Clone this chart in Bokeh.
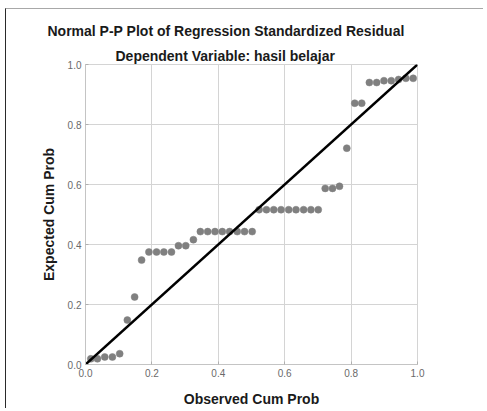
from bokeh.plotting import figure
from bokeh.models import (Range1d, FixedTicker, NumeralTickFormatter, Title,
                          ColumnDataSource)
from bokeh.embed import file_html
from bokeh.resources import INLINE

# ---- data ----
observed_cum_prob = [0.016, 0.036, 0.058, 0.081, 0.103, 0.126, 0.148, 0.169,
                     0.191, 0.214, 0.236, 0.259, 0.280, 0.302, 0.325,
                     0.346, 0.368, 0.390, 0.412, 0.434, 0.457, 0.479, 0.502,
                     0.523, 0.545, 0.567, 0.589, 0.612, 0.634, 0.657, 0.679, 0.701,
                     0.722, 0.744, 0.765, 0.787, 0.811, 0.832,
                     0.855, 0.877, 0.899, 0.921, 0.943, 0.965, 0.987]
expected_cum_prob = [0.019, 0.019, 0.025, 0.025, 0.036, 0.148, 0.225, 0.348,
                     0.375, 0.375, 0.375, 0.375, 0.396, 0.396, 0.416,
                     0.443, 0.443, 0.443, 0.443, 0.443, 0.443, 0.443, 0.443,
                     0.516, 0.516, 0.516, 0.516, 0.516, 0.516, 0.516, 0.516, 0.516,
                     0.587, 0.587, 0.594, 0.721, 0.871, 0.871,
                     0.940, 0.940, 0.946, 0.946, 0.950, 0.954, 0.954]
reference_line = [0.0, 1.0]
tick_values = [0.0, 0.2, 0.4, 0.6, 0.8, 1.0]

title_text = "Normal P-P Plot of Regression Standardized Residual"
subtitle_text = "Dependent Variable: hasil belajar"
x_label = "Observed Cum Prob"
y_label = "Expected Cum Prob"

FONT = "Liberation Sans"

p = figure(width=478, height=400, output_backend="svg", toolbar_location=None,
           x_range=Range1d(0, 1), y_range=Range1d(0, 1),
           min_border_left=79, min_border_right=67,
           min_border_top=55, min_border_bottom=43,
           title=None)
p.styles = {"margin-left": "5px", "margin-top": "8px",
            "border-left": "1.5px solid #2a2a2a",
            "border-top": "1px solid #a8a8a8"}
p.background_fill_color = "white"
p.border_fill_color = "white"
p.outline_line_color = "#d4d4d4"
p.outline_line_width = 1

for ax in (p.xaxis[0], p.yaxis[0]):
    ax.ticker = FixedTicker(ticks=tick_values)
    ax.formatter = NumeralTickFormatter(format="0.0")
    ax.axis_line_color = "#c4c4c4"
    ax.axis_line_width = 1
    ax.major_tick_in = 3
    ax.major_tick_out = 0
    ax.major_tick_line_color = "#b0b0b0"
    ax.minor_tick_line_color = None
    ax.major_label_text_font = FONT
    ax.major_label_text_font_size = "10px"
    ax.major_label_text_color = "#6a6a6a"
    ax.axis_label_text_font = FONT
    ax.axis_label_text_font_size = "14px"
    ax.axis_label_text_font_style = "bold"
    ax.axis_label_text_color = "#1a1a1a"

p.yaxis[0].major_label_standoff = 4
p.yaxis[0].axis_label = y_label
p.yaxis[0].axis_label_standoff = 8
p.xaxis[0].major_label_standoff = 4
p.xaxis[0].axis_label = x_label
p.xaxis[0].axis_label_standoff = 11

p.grid.grid_line_color = "#d4d4d4"
p.grid.grid_line_width = 1
p.xgrid.ticker = FixedTicker(ticks=tick_values)
p.ygrid.ticker = FixedTicker(ticks=tick_values)

src = ColumnDataSource(data=dict(x=observed_cum_prob, y=expected_cum_prob))
p.scatter("x", "y", source=src, size=7, fill_color="#808080",
          line_color="#808080", line_width=0.5)
p.line(reference_line, reference_line, line_color="black", line_width=2.5)

# subtitle first (closest to the frame), then the main title above it
p.add_layout(Title(text=subtitle_text, align="left", offset=30,
                   vertical_align="bottom", standoff=2,
                   text_font=FONT, text_font_size="14px", text_font_style="bold",
                   text_color="#1a1a1a"), "above")
p.add_layout(Title(text=title_text, align="left", offset=-38,
                   vertical_align="bottom", standoff=12,
                   text_font=FONT, text_font_size="14px", text_font_style="bold",
                   text_color="#1a1a1a"), "above")

open("out.html", "w").write(file_html(p, INLINE))
